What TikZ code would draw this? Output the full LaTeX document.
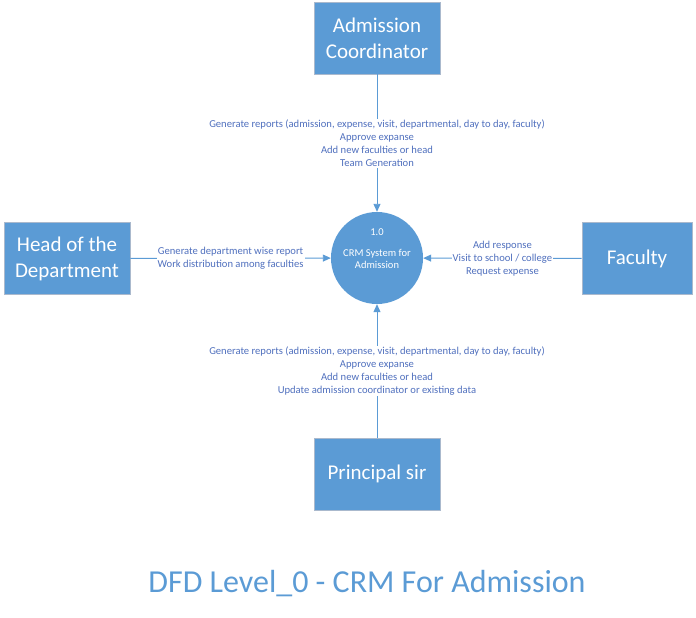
\documentclass[tikz,border=0pt]{standalone}
\usepackage{fontspec}
\setmainfont{Carlito}
\usetikzlibrary{arrows.meta}
\definecolor{boxblue}{HTML}{5B9BD5}
\definecolor{boxedge}{RGB}{170,185,205}
\definecolor{lbltxt}{RGB}{80,112,190}
\begin{document}
\begin{tikzpicture}[x=1pt,y=-1pt,
  entity/.style={draw=boxedge,line width=0.8pt,fill=boxblue,text=white,
    minimum width=126pt,minimum height=72pt,inner sep=0pt,align=center,
    font=\fontsize{21}{26}\selectfont},
  proc/.style={circle,fill=boxblue,draw=none,minimum size=92pt,inner sep=0pt},
  flow/.style={draw=boxblue,line width=0.9pt,-{Triangle[length=8pt,width=7pt]}},
  lbl/.style={fill=white,text=lbltxt,inner sep=1pt,align=center,
    font=\fontsize{10.6}{13}\selectfont}]
\useasboundingbox (0,0) rectangle (696,618);
\node[entity] (coord) at (377,38) {Admission\\Coordinator};
\node[entity] (hod) at (67,258.5) {Head of the\\Department};
\node[entity,minimum width=110pt] (fac) at (637,258.5) {Faculty};
\node[entity] (prin) at (377,474) {Principal sir};
\node[proc] (crm) at (377,258) {};
\node[text=white,align=center,font=\fontsize{10.5}{12}\selectfont] (crmnum) at (377,232) {1.0};
\node[text=white,align=center,font=\fontsize{10.5}{12}\selectfont] (crmtxt) at (377,259) {CRM System for\\Admission};
\draw[flow] (coord) -- node[lbl] (l1) {Generate reports (admission, expense, visit, departmental, day to day, faculty)\\Approve expanse\\Add new faculties or head\\Team Generation} (crm);
\draw[flow] (hod) -- node[lbl] (l2) {Generate department wise report\\Work distribution among faculties} (crm);
\draw[flow] (fac) -- node[lbl] (l3) {Add response\\Visit to school / college\\Request expense} (crm);
\draw[flow] (prin) -- node[lbl] (l4) {Generate reports (admission, expense, visit, departmental, day to day, faculty)\\Approve expanse\\Add new faculties or head\\Update admission coordinator or existing data} (crm);
\node[text=boxblue,font=\fontsize{32}{36}\selectfont] (title) at (367,584) {DFD Level\_0 - CRM For Admission};
\end{tikzpicture}
\end{document}
